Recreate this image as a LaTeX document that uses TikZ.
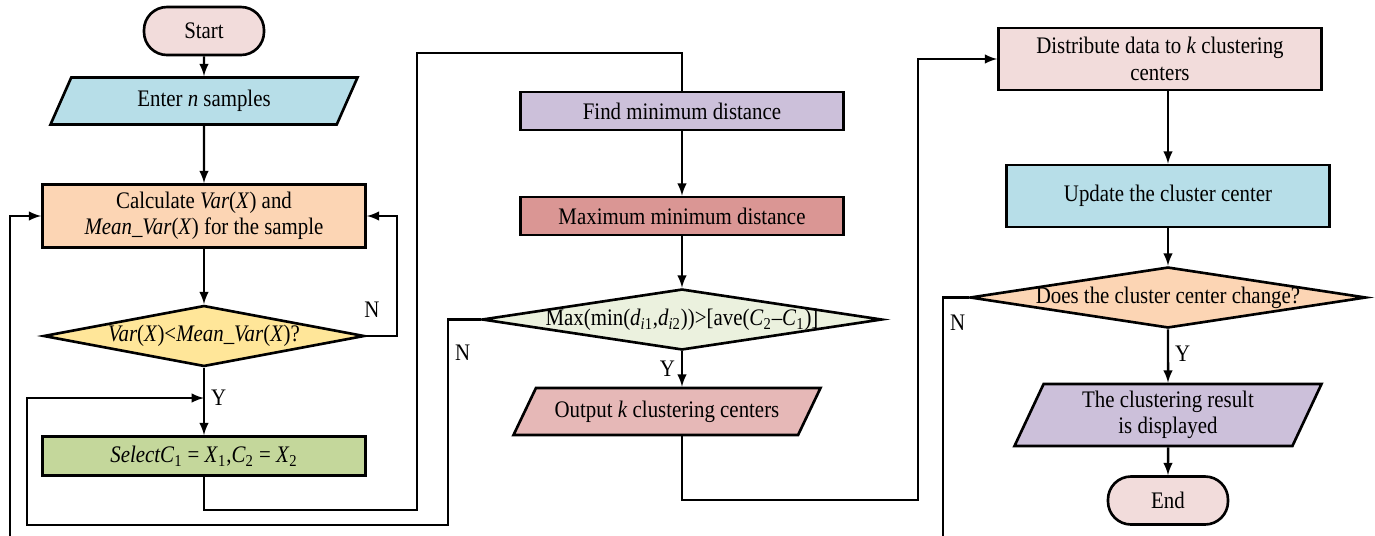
\documentclass[tikz,border=0pt]{standalone}
\usepackage{fontspec}
\setmainfont{Liberation Serif}[FakeStretch=0.88]
\usetikzlibrary{shapes.geometric, arrows}
\definecolor{termpink}{HTML}{F2DCDB}
\definecolor{inblue}{HTML}{B7DEE8}
\definecolor{calcpeach}{HTML}{FCD5B4}
\definecolor{condyellow}{HTML}{FFE699}
\definecolor{selgreen}{HTML}{C4D79B}
\definecolor{findlilac}{HTML}{CCC0DA}
\definecolor{maxred}{HTML}{DA9694}
\definecolor{condgreen}{HTML}{EBF1DE}
\definecolor{outrose}{HTML}{E6B8B7}
\tikzstyle{terminal} = [rectangle, rounded corners=0.46cm, minimum width=2.4cm, minimum height=0.96cm, draw=black, line width=1.5pt, fill=termpink]
\tikzstyle{process} = [rectangle, minimum width=6.46cm, minimum height=1.26cm, align=center, draw=black, line width=1.5pt]
\tikzstyle{inout} = [trapezium, trapezium stretches body, trapezium left angle=58, trapezium right angle=122, minimum width=6.14cm, minimum height=0.94cm, align=center, draw=black, line width=1.5pt]
\tikzstyle{decision} = [diamond, inner sep=0pt, minimum width=6.42cm, minimum height=1.22cm, draw=black, line width=1.5pt]
\tikzstyle{arrow} = [line width=1.4pt, ->, >=latex]
\tikzstyle{line} = [line width=1.4pt]

\begin{document}
\begin{tikzpicture}[node distance=2.4cm, font=\fontsize{13.5}{15}\selectfont]
\useasboundingbox (0,0) rectangle (27.5,-10.7);

% left column
\node (start) [terminal] at (4.08,-0.62) {Start};
\node (enter) [inout, fill=inblue, below of=start, yshift=1cm] {Enter \textit{n} samples};
\node (calc) [process, fill=calcpeach, below of=enter, yshift=0.1cm] {Calculate \textit{Var}(\textit{X}) and\\ \textit{Mean\_Var}(\textit{X}) for the sample};
\node (dec1) [decision, fill=condyellow, below of=calc] {\makebox[0pt]{\textit{Var}(\textit{X})<\textit{Mean\_Var}(\textit{X})?}};
\node (select) [process, fill=selgreen, minimum height=0.78cm, below of=dec1] {\textit{SelectC}\textsubscript{1} = \textit{X}\textsubscript{1},\textit{C}\textsubscript{2} = \textit{X}\textsubscript{2}};
\coordinate (join) at (4.08,-7.96);

% middle column
\node (find) [process, fill=findlilac, minimum height=0.76cm] at (13.64,-2.22) {Find minimum distance};
\node (maxd) [process, fill=maxred, minimum height=0.76cm, below of=find, yshift=0.3cm] {Maximum minimum distance};
\node (dec2) [decision, fill=condgreen, minimum width=8cm, below of=maxd, yshift=0.33cm] {\makebox[0pt]{Max(min(\textit{d}\textsubscript{\textit{i}1},\textit{d}\textsubscript{\textit{i}2}))>[ave(\textit{C}\textsubscript{2}--\textit{C}\textsubscript{1})]}};
\node (output) [inout, fill=outrose, trapezium left angle=56, trapezium right angle=124, below of=dec2, yshift=0.56cm, xshift=-0.3cm] {Output \textit{k} clustering centers};

% right column
\node (dist) [process, fill=termpink, minimum height=1.24cm] at (23.2,-1.18) {Distribute data to \textit{k} clustering\\ centers};
\node (update) [process, fill=inblue, minimum height=1.24cm, below of=dist, yshift=-0.34cm, xshift=0.16cm] {Update the cluster center};
\node (dec3) [decision, fill=calcpeach, minimum width=7.92cm, below of=update, yshift=0.37cm] {\makebox[0pt]{Does the cluster center change?}};
\node (result) [inout, fill=findlilac, minimum height=1.24cm, trapezium left angle=64, trapezium right angle=116, below of=dec3, yshift=0.05cm] {The clustering result\\ is displayed};
\node (stop) [terminal, below of=result, yshift=0.69cm] {End};

\draw [arrow] (start) -- (enter);
\draw [arrow] (enter) -- (calc);
\draw [arrow] (calc) -- (dec1);
\draw [arrow] (dec1.east) -- node[pos=0.2, anchor=south, yshift=0.22cm] {N} ++(0.62,0) |- (calc.east);
\draw [arrow] (dec1) -- node[anchor=west, pos=0.44] {Y} (select);
\draw [arrow] (dec2.west) -| node[pos=0.58, anchor=west] {N} (8.96,-10.5) -| (0.54,-7.96) -- (join);
\draw [line] (select.south) |- (8.34,-10.2) -- (8.34,-1.06) -| (find.north);
\draw [arrow] (find) -- (maxd);
\draw [arrow] (maxd) -- (dec2);
\draw [arrow] (dec2.south) -- node[anchor=east, pos=0.5] {Y} (dec2.south |- output.north);
\draw [arrow] (dec2.south |- output.south) |- (18.36,-10) |- (dist.west);
\draw [arrow] (update.north |- dist.south) -- (update.north);
\draw [arrow] (update) -- (dec3);
\draw [arrow] (dec3) -- node[anchor=west, pos=0.45] {Y} (result);
\draw [arrow] (result) -- (stop);
\draw [arrow] (dec3.west) -| node[pos=0.55, anchor=west] {N} (18.86,-11) -- (0.2,-11) |- (calc.west);

\end{tikzpicture}
\end{document}
